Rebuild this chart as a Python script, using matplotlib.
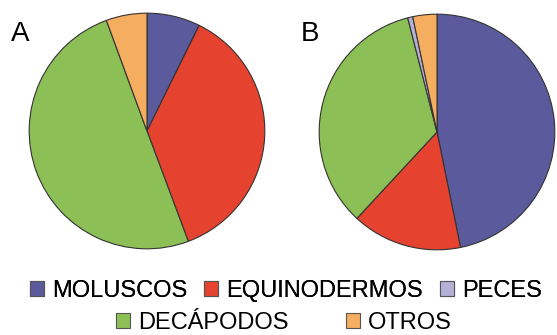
import matplotlib
matplotlib.use("Agg")
import matplotlib.pyplot as plt
from matplotlib.patches import Patch

plt.rcParams['font.family'] = ['Liberation Sans', 'DejaVu Sans']

categories = ["MOLUSCOS", "EQUINODERMOS", "PECES", "DECÁPODOS", "OTROS"]
colors = ["#5A5A9C", "#E5432F", "#B5B0D8", "#8CC056", "#F5AD60"]
# pie order clockwise from top
pie_order = ["MOLUSCOS", "EQUINODERMOS", "DECÁPODOS", "PECES", "OTROS"]
values_A = {"MOLUSCOS": 7.3, "EQUINODERMOS": 37.0, "PECES": 0.0, "DECÁPODOS": 50.1, "OTROS": 5.6}
values_B = {"MOLUSCOS": 46.8, "EQUINODERMOS": 15.1, "PECES": 0.7, "DECÁPODOS": 34.1, "OTROS": 3.3}
panel_labels = ["A", "B"]

W, H = 557, 335
fig = plt.figure(figsize=(W / 100, H / 100), dpi=100)

cmap = dict(zip(categories, colors))

def add_pie(cx, cy, r, vals, label, lx, ly):
    ax = fig.add_axes([(cx - r) / W, (H - cy - r) / H, 2 * r / W, 2 * r / H])
    keys = [k for k in pie_order if vals[k] > 0]
    ax.pie([vals[k] for k in keys], colors=[cmap[k] for k in keys],
           startangle=90, counterclock=False, radius=1,
           wedgeprops=dict(edgecolor="#333333", linewidth=0.8))
    ax.set_xlim(-1.01, 1.01)
    ax.set_ylim(-1.01, 1.01)
    ax.set_aspect("auto")
    ax.axis("off")
    fig.text(lx / W, 1 - ly / H, label, fontsize=20, ha="left", va="center")

add_pie(147, 131, 119, values_A, panel_labels[0], 11, 34)
add_pie(437, 132, 119, values_B, panel_labels[1], 301, 34)

def handle(name):
    return Patch(facecolor=cmap[name], edgecolor="#555555", linewidth=0.8)

row1 = ["MOLUSCOS", "EQUINODERMOS", "PECES"]
row2 = ["DECÁPODOS", "OTROS"]

leg1 = fig.legend([handle(n) for n in row1], row1, ncol=3, frameon=False,
                  fontsize=17, loc="center", bbox_to_anchor=(286 / W, 1 - 291 / H),
                  handlelength=0.6, handleheight=0.6, handletextpad=0.35,
                  columnspacing=0.7, borderpad=0, borderaxespad=0)
fig.add_artist(leg1)
leg2 = fig.legend([handle(n) for n in row2], row2, ncol=2, frameon=False,
                  fontsize=17, loc="center", bbox_to_anchor=(284 / W, 1 - 323 / H),
                  handlelength=0.6, handleheight=0.6, handletextpad=0.35,
                  columnspacing=2.4, borderpad=0, borderaxespad=0)

fig.savefig("out.png", dpi=100)
